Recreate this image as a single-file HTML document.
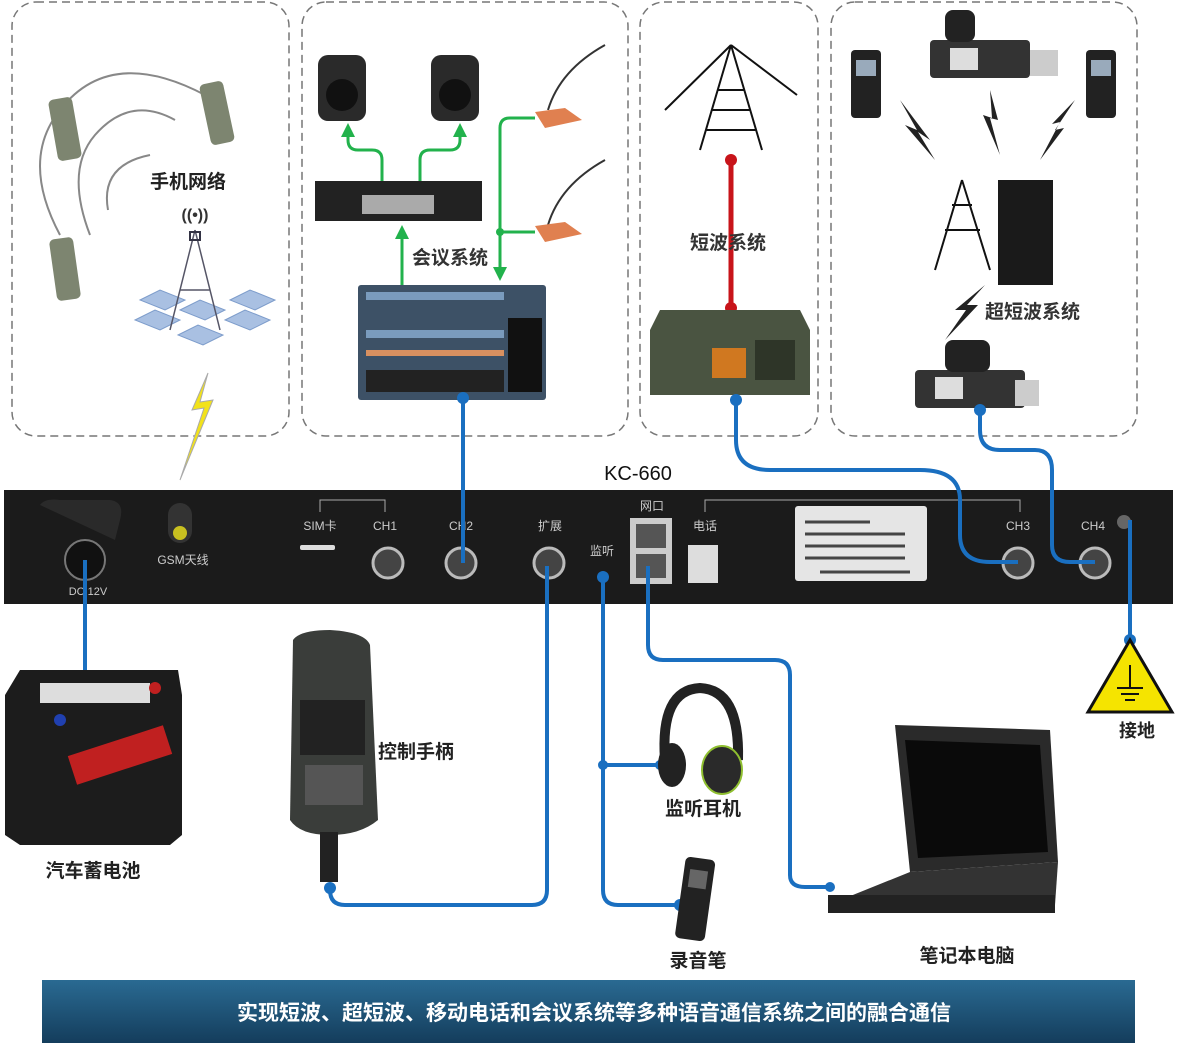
<!DOCTYPE html>
<html><head><meta charset="utf-8"><style>
html,body{margin:0;padding:0;background:#fff;}
svg{display:block;font-family:"Liberation Sans","Noto Sans CJK SC",sans-serif;}
.lb{font-weight:bold;}
</style></head><body>
<svg width="1177" height="1047" viewBox="0 0 1177 1047" xmlns="http://www.w3.org/2000/svg">
<defs>
<linearGradient id="ban" x1="0" y1="0" x2="0" y2="1"><stop offset="0" stop-color="#2a6a92"/><stop offset="1" stop-color="#143d5c"/></linearGradient>
<marker id="ga" markerUnits="userSpaceOnUse" markerWidth="14" markerHeight="14" refX="7" refY="7" orient="auto"><path d="M0,0 L14,7 L0,14 z" fill="#22b24c"/></marker>
</defs>
<!-- dashed boxes -->
<g fill="none" stroke="#777" stroke-width="1.5" stroke-dasharray="8,5">
<rect x="12" y="2" width="277" height="434" rx="24"/>
<rect x="302" y="2" width="326" height="434" rx="24"/>
<rect x="640" y="2" width="178" height="434" rx="24"/>
<rect x="831" y="2" width="306" height="434" rx="24"/>
</g>
<!-- box1 mobile network -->
<g fill="none" stroke="#888" stroke-width="2">
<path d="M60,235 Q20,160 60,110 Q110,45 205,95"/><path d="M90,235 Q65,170 95,135 Q130,95 175,120"/><path d="M108,210 Q100,165 150,155"/>
</g>
<rect x="53" y="98" width="24" height="62" rx="5" fill="#7d8570" transform="rotate(-10 65 129)"/>
<rect x="205" y="82" width="24" height="62" rx="5" fill="#7d8570" transform="rotate(-12 217 113)"/>
<rect x="53" y="238" width="24" height="62" rx="5" fill="#7d8570" transform="rotate(-8 65 269)"/>
<text x="188" y="188" font-size="19" text-anchor="middle" fill="#222" class="lb">手机网络</text>
<g fill="#a9c0e2" stroke="#7d9ccb"><polygon points="140,300 160,290 185,300 165,310"/><polygon points="230,300 250,290 275,300 255,310"/><polygon points="135,320 155,310 180,320 160,330"/><polygon points="225,320 245,310 270,320 250,330"/><polygon points="178,335 198,325 223,335 203,345"/><polygon points="180,310 200,300 225,310 205,320"/></g>
<path d="M195,230 L170,330 M195,230 L220,330 M180,290 L210,290" stroke="#556" stroke-width="1.5"/>
<rect x="190" y="232" width="10" height="8" fill="none" stroke="#334" stroke-width="2"/>
<text x="195" y="220" font-size="16" text-anchor="middle" fill="#333" class="lb">((•))</text>
<polygon points="208,373 192,410 204,408 180,480 213,400 200,402" fill="#f2e21a" stroke="#aaa"/>
<!-- box2 meeting -->
<rect x="318" y="55" width="48" height="66" rx="10" fill="#2a2a2a"/><circle cx="342" cy="95" r="16" fill="#111"/>
<rect x="431" y="55" width="48" height="66" rx="10" fill="#2a2a2a"/><circle cx="455" cy="95" r="16" fill="#111"/>
<rect x="315" y="181" width="167" height="40" fill="#222"/><rect x="362" y="195" width="72" height="19" fill="#aaa"/>
<rect x="358" y="285" width="188" height="115" rx="3" fill="#3d5166"/>
<g fill="#7a9bbd"><rect x="366" y="292" width="138" height="8"/><rect x="366" y="330" width="138" height="8"/><rect x="366" y="350" width="138" height="6" fill="#d89060"/><rect x="366" y="370" width="138" height="22" fill="#222"/></g>
<rect x="508" y="318" width="34" height="74" fill="#111"/>
<g fill="none" stroke="#22b24c" stroke-width="3">
<path d="M382,181 V160 Q382,150 372,150 H358 Q348,150 348,140 V130" marker-end="url(#ga)"/>
<path d="M420,181 V160 Q420,150 430,150 H450 Q460,150 460,140 V130" marker-end="url(#ga)"/>
<path d="M402,285 V232" marker-end="url(#ga)"/>
<path d="M535,118 H510 Q500,118 500,128 V274" marker-end="url(#ga)"/>
<path d="M500,232 H535"/>
</g>
<circle cx="500" cy="232" r="4" fill="#22b24c"/>
<path d="M548,110 Q560,70 605,45 M548,225 Q560,185 605,160" stroke="#333" stroke-width="2" fill="none"/>
<polygon points="535,112 565,108 582,120 545,128" fill="#e08050"/><polygon points="535,226 565,222 582,234 545,242" fill="#e08050"/>
<text x="412" y="264" font-size="19" fill="#333" class="lb">会议系统</text>
<!-- box3 shortwave -->
<g stroke="#111" stroke-width="2" fill="none"><path d="M731,45 L700,150 M731,45 L762,150 M712,110 L750,110 M718,90 L744,90 M706,130 L756,130 M731,45 L665,110 M731,45 L797,95"/></g>
<path d="M731,160 V308" stroke="#c8141a" stroke-width="5"/>
<circle cx="731" cy="160" r="6" fill="#c8141a"/><circle cx="731" cy="308" r="6" fill="#c8141a"/>
<text x="690" y="249" font-size="19" fill="#333" class="lb">短波系统</text>
<path d="M660,310 H800 L810,330 V395 H650 V330 z" fill="#4a5441"/><rect x="712" y="348" width="34" height="30" fill="#d07820"/><rect x="755" y="340" width="40" height="40" fill="#2e3528"/>
<!-- box4 VHF -->
<rect x="851" y="50" width="30" height="68" rx="4" fill="#222"/><rect x="856" y="60" width="20" height="16" fill="#9ab"/>
<rect x="1086" y="50" width="30" height="68" rx="4" fill="#222"/><rect x="1091" y="60" width="20" height="16" fill="#9ab"/>
<rect x="930" y="40" width="100" height="38" rx="4" fill="#333"/><rect x="950" y="48" width="28" height="22" fill="#ddd"/><rect x="1030" y="50" width="28" height="26" fill="#ccc"/><rect x="945" y="10" width="30" height="32" rx="8" fill="#222"/>
<g fill="#222"><polygon points="900,100 930,140 918,132 935,160 905,125 917,130"/><polygon points="990,90 998,120 990,118 1000,155 983,115 992,118"/><polygon points="1075,100 1055,130 1064,128 1040,160 1060,122 1052,124"/></g>
<g stroke="#111" stroke-width="2" fill="none"><path d="M962,180 L935,270 M962,180 L990,270 M945,230 L980,230 M952,205 L972,205"/></g>
<rect x="998" y="180" width="55" height="105" fill="#1a1a1a"/>
<text x="985" y="318" font-size="19" fill="#333" class="lb">超短波系统</text>
<polygon points="985,285 955,310 966,310 945,340 978,305 967,305" fill="#222"/>
<rect x="915" y="370" width="110" height="38" rx="4" fill="#333"/><rect x="935" y="377" width="28" height="22" fill="#ddd"/><rect x="945" y="340" width="45" height="32" rx="8" fill="#222"/><rect x="1015" y="380" width="24" height="26" fill="#ccc"/>
<!-- title -->
<text x="638" y="480" font-size="20" text-anchor="middle" fill="#111">KC-660</text>
<!-- panel -->
<rect x="4" y="490" width="1169" height="114" fill="#1b1b1b"/>
<path d="M40,505 Q45,498 60,500 H110 Q125,502 120,520 L115,540" fill="#2a2a2a"/>
<circle cx="85" cy="560" r="20" fill="#111" stroke="#777" stroke-width="2"/>
<text x="88" y="595" font-size="11" fill="#ccc" text-anchor="middle">DC 12V</text>
<rect x="168" y="503" width="24" height="40" rx="12" fill="#333"/><circle cx="180" cy="533" r="7" fill="#c8c020"/>
<text x="183" y="564" font-size="12" fill="#ccc" text-anchor="middle">GSM天线</text>
<path d="M320,512 V500 H385 V512 M705,512 V500 H1020 V512" stroke="#aaa" fill="none"/>
<g font-size="12" fill="#ccc" text-anchor="middle"><text x="320" y="530">SIM卡</text><text x="385" y="530">CH1</text><text x="461" y="530">CH2</text><text x="550" y="530">扩展</text><text x="602" y="555">监听</text><text x="652" y="510">网口</text><text x="705" y="530">电话</text><text x="1018" y="530">CH3</text><text x="1093" y="530">CH4</text></g>
<rect x="300" y="545" width="35" height="5" rx="2" fill="#ddd"/>
<g fill="#444" stroke="#bbb" stroke-width="3"><circle cx="388" cy="563" r="15"/><circle cx="461" cy="563" r="15"/><circle cx="549" cy="563" r="15"/><circle cx="1018" cy="563" r="15"/><circle cx="1095" cy="563" r="15"/></g>
<rect x="630" y="518" width="42" height="66" fill="#ccc"/><rect x="636" y="524" width="30" height="24" fill="#555"/><rect x="636" y="554" width="30" height="24" fill="#555"/>
<rect x="688" y="545" width="30" height="38" fill="#ddd"/>
<rect x="795" y="506" width="132" height="75" rx="3" fill="#e5e5e5"/>
<g stroke="#444" stroke-width="3"><path d="M805,522 H870 M805,534 H905 M805,546 H905 M805,558 H905 M820,572 H910"/></g>
<circle cx="1124" cy="522" r="7" fill="#666"/>
<!-- blue connections -->
<g fill="none" stroke="#1a6fc0" stroke-width="4">
<path d="M463,398 V563"/>
<path d="M85,560 V710"/>
<path d="M547,566 V890 Q547,905 532,905 H345 Q330,905 330,890 V887"/>
<path d="M603,575 V890 Q603,905 618,905 H680 M603,765 H660"/>
<path d="M648,566 V645 Q648,660 663,660 H775 Q790,660 790,675 V875 Q790,887 805,887 H830"/>
<path d="M736,400 V440 Q736,470 770,470 H920 Q960,470 960,500 V535 Q960,562 990,562 H1018"/>
<path d="M980,412 V430 Q980,450 1000,450 H1035 Q1052,450 1052,470 V545 Q1052,562 1070,562 H1095"/>
<path d="M1130,520 V640"/>
</g>
<g fill="#1a6fc0"><circle cx="463" cy="398" r="6"/><circle cx="736" cy="400" r="6"/><circle cx="980" cy="410" r="6"/><circle cx="85" cy="708" r="6"/><circle cx="330" cy="888" r="6"/><circle cx="603" cy="577" r="6"/><circle cx="603" cy="765" r="5"/><circle cx="660" cy="765" r="5"/><circle cx="680" cy="905" r="6"/><circle cx="830" cy="887" r="5"/><circle cx="1130" cy="640" r="6"/></g>
<!-- ground sign -->
<polygon points="1130,640 1172,712 1088,712" fill="#f5e400" stroke="#111" stroke-width="3"/>
<path d="M1130,665 V688 M1117,688 H1143 M1121,694 H1139 M1125,700 H1135" stroke="#111" stroke-width="2"/>
<text x="1137" y="737" font-size="18" text-anchor="middle" fill="#222" class="lb">接地</text>
<!-- battery -->
<path d="M5,695 L20,670 H178 L182,695 V835 L170,845 H20 L5,835 z" fill="#1c1c1c"/>
<rect x="40" y="683" width="110" height="20" fill="#ddd"/><circle cx="155" cy="688" r="6" fill="#c02020"/><circle cx="60" cy="720" r="6" fill="#2040b0"/>
<rect x="70" y="740" width="100" height="30" fill="#c02020" transform="rotate(-18 120 755)"/>
<text x="93" y="877" font-size="19" text-anchor="middle" fill="#222" class="lb">汽车蓄电池</text>
<!-- handset -->
<path d="M293,640 Q300,630 330,630 Q365,632 370,645 L378,820 Q360,835 330,835 Q300,835 290,820 z" fill="#3a3d3a"/>
<rect x="300" y="700" width="65" height="55" fill="#222"/><rect x="305" y="765" width="58" height="40" fill="#555"/>
<rect x="320" y="832" width="18" height="50" fill="#222"/>
<text x="378" y="758" font-size="19" fill="#222" class="lb">控制手柄</text>
<!-- headphones -->
<path d="M665,760 Q660,690 700,688 Q740,690 738,760" fill="none" stroke="#222" stroke-width="10"/>
<ellipse cx="672" cy="765" rx="14" ry="22" fill="#222"/><ellipse cx="722" cy="770" rx="20" ry="24" fill="#2a2a2a" stroke="#8fbf30" stroke-width="2"/>
<text x="703" y="815" font-size="19" text-anchor="middle" fill="#222" class="lb">监听耳机</text>
<!-- recorder -->
<rect x="680" y="858" width="30" height="82" rx="5" fill="#222" transform="rotate(8 695 900)"/>
<rect x="686" y="870" width="18" height="18" fill="#666" transform="rotate(8 695 900)"/>
<text x="698" y="967" font-size="19" text-anchor="middle" fill="#222" class="lb">录音笔</text>
<!-- laptop -->
<path d="M895,725 L1050,730 L1058,862 L910,872 z" fill="#2a2a2a"/><path d="M905,740 L1040,745 L1048,852 L918,858 z" fill="#0a0a0a"/>
<path d="M910,872 L1058,862 L1055,905 L828,905 z" fill="#333"/><rect x="828" y="895" width="227" height="18" fill="#222"/>
<text x="967" y="962" font-size="19" text-anchor="middle" fill="#222" class="lb">笔记本电脑</text>
<!-- banner -->
<rect x="42" y="980" width="1093" height="63" fill="url(#ban)"/>
<text x="594" y="1020" font-size="21" text-anchor="middle" fill="#fff" class="lb">实现短波、超短波、移动电话和会议系统等多种语音通信系统之间的融合通信</text>
</svg>
</body></html>
